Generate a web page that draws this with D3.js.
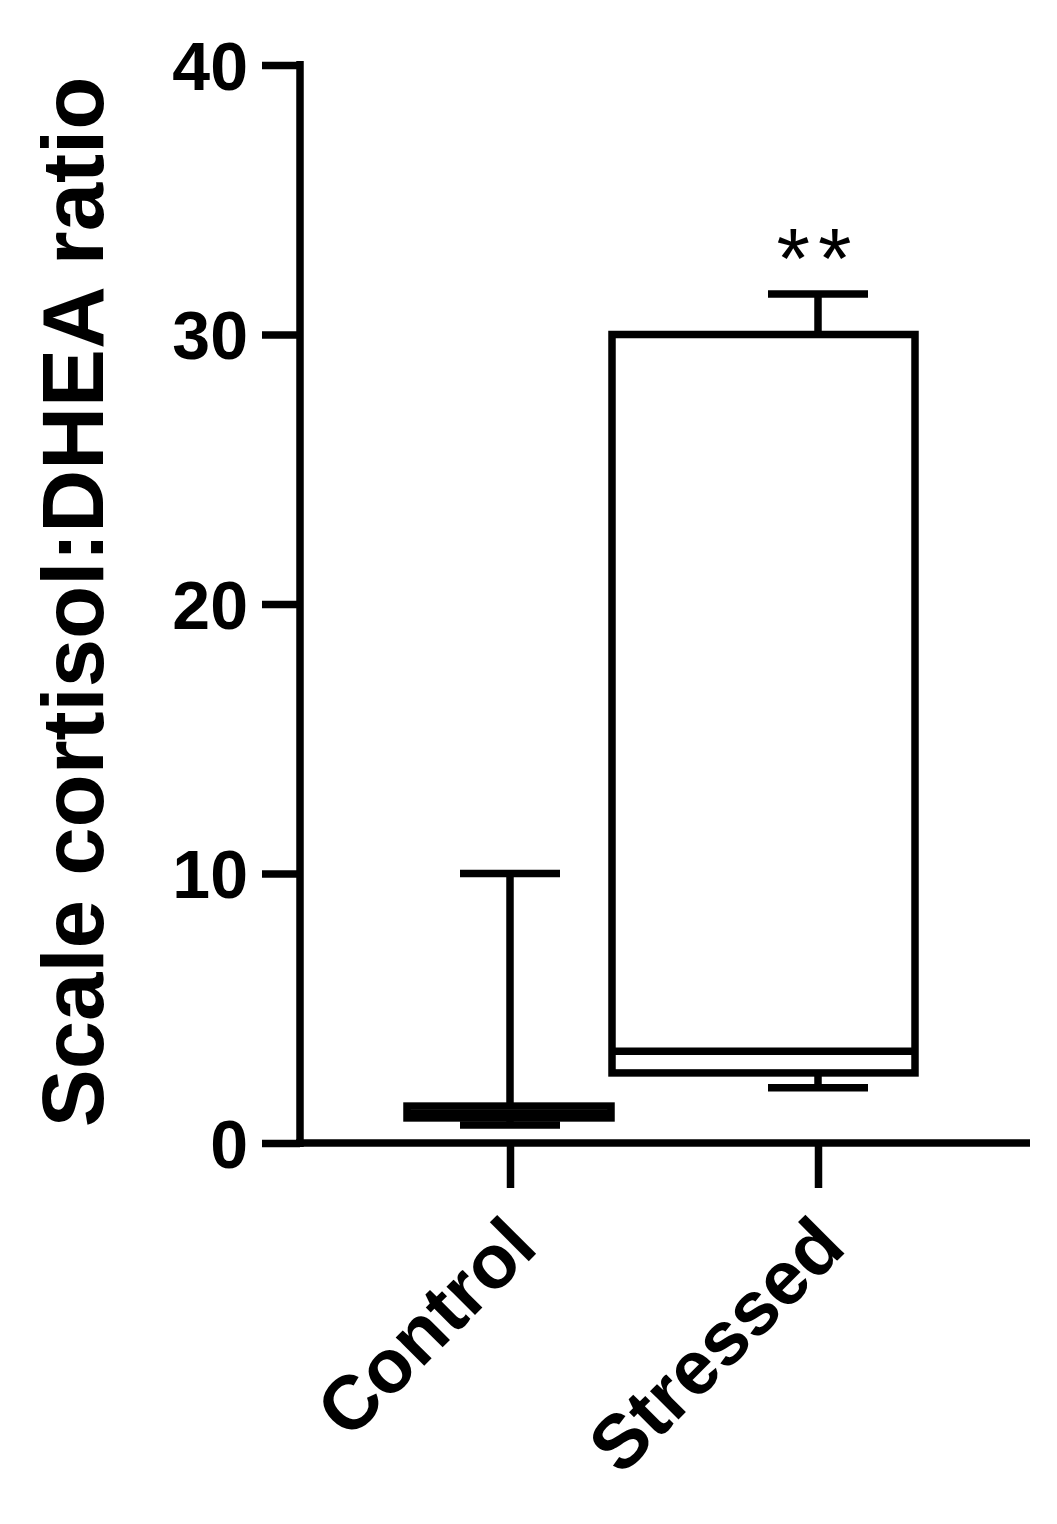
<!DOCTYPE html>
<html><head><meta charset="utf-8">
<script src="https://cdn.jsdelivr.net/npm/d3@7"></script>
<style>body{margin:0;background:#fff}</style></head>
<body><svg id="chart" width="1057" height="1524"></svg>
<script>
// box summaries
var groups = ["Control", "Stressed"];
var mins = [0.67, 2.05];
var q1s = [0.93, 2.6];
var medians = [1.1, 3.4];
var q3s = [1.37, 30.0];
var maxs = [10.0, 31.5];
var yTicks = [0, 10, 20, 30, 40];

var svg = d3.select("#chart");
var y = d3.scaleLinear().domain([0, 40]).range([1143, 65]);
var x = d3.scalePoint().domain(groups).range([510, 818]);
var lw = 7.5, font = "Arial, 'Liberation Sans', sans-serif";

// y axis
var yAx = svg.append("g").attr("transform", "translate(300,0)")
    .call(d3.axisLeft(y).tickValues(yTicks).tickSize(38).tickPadding(14));
yAx.select(".domain").attr("stroke-width", lw).attr("d", "M0,61V1147");
yAx.selectAll("line").attr("stroke-width", lw);
yAx.selectAll("text").attr("font-size", 68).attr("font-weight", "bold")
    .attr("font-family", font).attr("fill", "#000").attr("dy", "0.36em");

// x axis
var xAx = svg.append("g").attr("transform", "translate(0,1143)")
    .call(d3.axisBottom(x).tickSize(45).tickFormat(""));
xAx.select(".domain").attr("stroke-width", lw).attr("d", "M296,0H1030");
xAx.selectAll("line").attr("stroke-width", lw);

groups.forEach(function (g, i) {
    var cx = x(g);
    svg.append("text").text(g)
        .attr("transform", "translate(" + (cx + 30) + ",1250) rotate(-45)")
        .attr("text-anchor", "end").attr("font-size", 76).attr("font-weight", "bold")
        .attr("font-family", font);
});

// y label
svg.append("text").text("Scale cortisol:DHEA ratio")
    .attr("transform", "translate(103,602) rotate(-90)")
    .attr("text-anchor", "middle").attr("font-size", 87).attr("font-weight", "bold")
    .attr("font-family", font);

// box left/right offsets from whisker centre
var boxL = [103, 206], boxR = [101, 97], capW = 100;
var g = svg.append("g").attr("stroke", "#000").attr("stroke-width", lw).attr("fill", "none");
groups.forEach(function (name, i) {
    var cx = x(name);
    g.append("line").attr("x1", cx).attr("x2", cx).attr("y1", y(maxs[i])).attr("y2", y(q3s[i]));
    g.append("line").attr("x1", cx).attr("x2", cx).attr("y1", y(mins[i])).attr("y2", y(q1s[i]));
    [mins[i], maxs[i]].forEach(function (v) {
        g.append("line").attr("x1", cx - capW / 2).attr("x2", cx + capW / 2).attr("y1", y(v)).attr("y2", y(v));
    });
    g.append("rect").attr("x", cx - boxL[i]).attr("width", boxL[i] + boxR[i])
        .attr("y", y(q3s[i])).attr("height", y(q1s[i]) - y(q3s[i])).attr("fill", "#fff");
    g.append("line").attr("x1", cx - boxL[i]).attr("x2", cx + boxR[i])
        .attr("y1", y(medians[i])).attr("y2", y(medians[i]));
});

svg.append("text").text("**").attr("x", x("Stressed")).attr("y", 288)
    .attr("text-anchor", "middle").attr("font-size", 86).attr("font-family", font)
    .attr("letter-spacing", 8);
</script></body></html>
